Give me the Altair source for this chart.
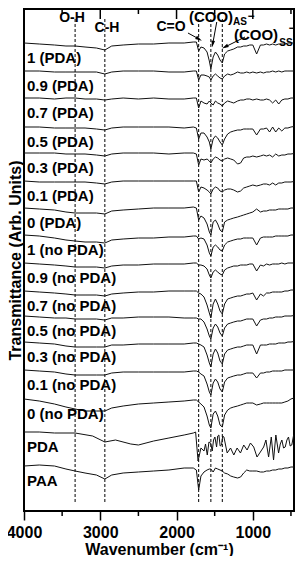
import altair as alt
import pandas as pd

FONT = "Liberation Sans"

# ---- wavenumber grid (cm^-1) shared by most spectra ----
W = [4000, 3800, 3600, 3450, 3330, 3200, 3050, 2940, 2850, 2700,
     2500, 2300, 2100, 1900, 1780, 1740, 1710, 1680, 1640, 1600,
     1570, 1550, 1520, 1490, 1460, 1430, 1400, 1370, 1330, 1290,
     1250, 1200, 1160, 1120, 1080, 1040, 1000, 950, 900, 860,
     820, 780, 740, 700, 660, 620, 580, 540, 500, 425]

SERIES = ["1 (PDA)", "0.9 (PDA)", "0.7 (PDA)", "0.5 (PDA)", "0.3 (PDA)",
          "0.1 (PDA)", "0 (PDA)", "1 (no PDA)", "0.9 (no PDA)", "0.7 (no PDA)",
          "0.5 (no PDA)", "0.3 (no PDA)", "0.1 (no PDA)", "0 (no PDA)", "PDA", "PAA"]

# vertical stacking offsets (arb. units)
OFFSETS = [468, 440, 413, 384, 358, 330, 303, 276, 248, 220, 195, 169, 141, 112, 79, 45]

# relative transmittance of each spectrum (arb. units)
S01 = [0, -1, -2, -3, -3, -4, -5, -7, -3, -2,
       -1, -1, 0, 0, 1, 1, -8, -4, -5, -9,
       -18, -26, -14, -9, -12, -17, -20, -11, -8, -7,
       -6, -4, -4, -3, -3, -2, -2, -11, -2, -2,
       -1, -2, -1, -2, -1, -1, -1, 0, 0, 0]
S02 = [0, 0, -1, -1, -1, -1, -1, -3, -1, 0,
       0, 0, -1, -1, 0, 0, -9, -4, -4, -5,
       -6, -9, -5, -3, -5, -7, -8, -5, -3, -4,
       -3, -1, -2, -2, -1, -2, -1, -2, -1, -2,
       -1, -1, 0, -1, 0, -1, 0, 0, 0, 0]
S03 = [0, 0, -1, 0, 0, -1, -1, -2, -1, 0,
       -1, 0, -1, -1, 0, 0, -10, -3, -5, -6,
       -3, -5, -7, -3, -5, -6, -8, -5, -3, -4,
       -5, -3, -2, -2, -1, -1, -2, -1, -2, -2,
       -1, -2, -5, -2, -6, -2, -1, -1, 0, 0]
S04 = [0, 0, -1, -1, -1, -1, -2, -3, -1, 0,
       0, 0, 0, -1, 0, -1, -12, -6, -6, -10,
       -15, -22, -12, -9, -11, -15, -18, -12, -7, -5,
       -4, -3, -3, -2, -2, -2, -2, -8, -2, -2,
       -1, -5, 0, -5, -1, -4, -1, -1, 0, 1]
S05 = [0, 0, 0, -1, -1, -1, -2, -3, -1, 0,
       0, 0, -1, 0, 0, -1, -12, -6, -7, -6,
       -8, -10, -6, -4, -5, -7, -8, -6, -5, -6,
       -7, -11, -10, -5, -4, -4, -3, -4, -3, -2,
       -3, -2, -4, -1, -3, -2, -2, -1, -1, 0]
S06 = [0, -1, -1, -1, -1, -1, -2, -3, -1, 0,
       0, 0, 0, 0, 0, 0, -11, -6, -7, -9,
       -11, -13, -8, -6, -7, -10, -11, -9, -8, -8,
       -9, -11, -10, -7, -6, -5, -4, -5, -4, -3,
       -3, -4, -2, -4, -2, -2, -1, -1, -1, 0]
S07 = [0, -1, -2, -4, -5, -5, -5, -6, -3, -2,
       -1, 0, 0, 0, 1, 0, -12, -8, -10, -16,
       -24, -27, -14, -12, -16, -22, -24, -14, -12, -11,
       -10, -9, -8, -7, -6, -5, -4, -1, -4, -3,
       -3, -2, -2, -2, -1, -1, -1, -1, 0, 0]
S08 = [0, -1, -3, -5, -6, -7, -7, -8, -5, -4,
       -3, -3, -2, -2, -1, -1, -4, -3, -4, -10,
       -18, -21, -12, -10, -12, -15, -16, -10, -7, -6,
       -5, -4, -4, -3, -3, -3, -3, -10, -3, -2,
       -2, -2, -2, -1, -1, -1, -1, -1, 0, 0]
S09 = [0, -1, -2, -3, -4, -4, -4, -5, -3, -2,
       -2, -1, -1, -1, 0, 0, -2, -2, -3, -6,
       -12, -15, -9, -7, -9, -11, -12, -7, -5, -4,
       -3, -3, -2, -2, -2, -1, -1, -8, -2, -3,
       -1, -2, -1, -1, -1, 0, -1, 0, 0, 0]
S10 = [0, -1, -2, -3, -4, -4, -4, -5, -3, -2,
       -1, -1, 0, 0, 0, 0, -2, -3, -6, -14,
       -22, -27, -13, -8, -13, -20, -23, -13, -8, -7,
       -6, -5, -5, -4, -3, -3, -2, -9, -3, -5,
       -2, -2, -1, -1, -1, -1, 0, 0, 1, 1]
S11 = [0, -1, -2, -2, -3, -3, -3, -4, -2, -2,
       -1, -1, -1, -2, -2, -2, -3, -3, -6, -13,
       -20, -23, -12, -8, -11, -17, -20, -12, -8, -7,
       -6, -5, -5, -4, -3, -3, -3, -10, -4, -3,
       -3, -2, -2, -1, -1, -1, 0, 0, 0, 1]
S12 = [0, -1, -2, -4, -5, -5, -5, -5, -3, -3,
       -2, -2, -2, -2, -1, -1, -2, -3, -5, -13,
       -21, -25, -12, -7, -11, -19, -22, -12, -8, -7,
       -6, -5, -5, -4, -3, -3, -3, -12, -3, -3,
       -3, -2, -2, -2, -1, -1, -1, 0, 0, 1]
S13 = [0, -1, -2, -4, -5, -5, -5, -5, -3, -2,
       -2, -2, -2, -2, -1, -1, -2, -4, -6, -14,
       -22, -25, -13, -9, -12, -19, -22, -12, -8, -7,
       -6, -5, -5, -4, -3, -3, -3, -8, -3, -3,
       -2, -2, -1, -1, -1, -1, 0, 0, 0, 0]
S14 = [0, -2, -5, -8, -10, -12, -12, -12, -9, -7,
       -5, -4, -3, -2, -1, -1, -3, -5, -8, -17,
       -26, -29, -15, -12, -17, -26, -28, -16, -11, -9,
       -8, -7, -6, -5, -4, -4, -4, -6, -5, -4,
       -4, -4, -4, -4, -4, -4, -3, -2, 0, 2]
PAA = [0, 1, 0, -3, -5, -7, -9, -13, -9, -7,
       -6, -5, -4, -2, -2, -4, -24, -10, -6, -4,
       -3, -3, -6, -2, -3, -4, -5, -7, -8, -10,
       -11, -12, -11, -7, -4, -5, -5, -5, -6, -6,
       -5, -5, -4, -4, -3, -3, -2, -2, -1, -1]

# pure PDA spectrum is very jagged: own, finer grid
PDA_W = [4000, 3800, 3600, 3330, 3100, 2940, 2800, 2600, 2500, 2400,
         2300, 2100, 1900, 1780, 1750, 1718, 1680, 1640, 1620, 1597,
         1575, 1553, 1532, 1515, 1497, 1475, 1460, 1445, 1428, 1410,
         1395, 1379, 1336, 1292, 1249, 1206, 1162, 1119, 1075, 1031,
         988, 945, 901, 858, 828, 793, 758, 728, 698, 662,
         640, 619, 597, 575, 553, 532, 510, 489, 467, 444, 425]
PDA = [0, 0, -1, -1, -4, -10, -8, -12, -13, -11,
       -9, -6, -3, -1, 0, -29, -16, -19, -12, -23,
       -10, -11, -19, -8, -5, -15, -4, -3, -14, -13,
       -4, -5, -21, -16, -23, -16, -21, -13, -18, -11,
       -15, -25, -20, -15, -8, -25, -5, -28, -3, -21,
       -12, -8, -16, -15, -8, -5, -14, -13, -4, -1, -10]

REL = [S01, S02, S03, S04, S05, S06, S07, S08, S09, S10, S11, S12, S13, S14, PDA, PAA]

# marker lines (cm^-1) and annotations
VLINES = [3330, 2940, 1710, 1550, 1400]
VLINE_TOP, VLINE_BOTTOM = 492, 8
ANN_TEXT = ["O-H", "C-H", "C=O", "(COO)", "AS", "\u2212", "(COO)", "SS", "\u2212"]
ANN_W = [3371, 2912, 2073, 1548, 1168, 1024, 958, 565, 486]
ANN_T = [493, 483, 484, 494, 489, 495, 476, 468, 483]
ANN_FS = [14, 14, 14, 15, 10, 12, 15, 10, 12]
ARROW_W1 = [1850, 1473, 1102]
ARROW_T1 = [478, 489, 474]
ARROW_W2 = [1706, 1526, 1365]
ARROW_T2 = [472, 467, 464]
ARROW_ANGLE = [119, 189, 243]

TICK_MAJOR = [3000, 2000, 1000]
TICK_MINOR = [3500, 2500, 1500, 500]
LABEL_VALUES = [4000, 3000, 2000, 1000]

# ---- build tables ----
rows = []
for name, off, rel in zip(SERIES, OFFSETS, REL):
    ws = PDA_W if name == "PDA" else W
    assert len(ws) == len(rel), name
    for i, (w, r) in enumerate(zip(ws, rel)):
        rows.append({"series": name, "w": w, "t": off + r, "idx": i})
df = pd.DataFrame(rows)
lab_df = pd.DataFrame({"series": SERIES, "t": [o - 15 for o in OFFSETS]})
vl_df = pd.DataFrame({"w": VLINES, "t": [VLINE_TOP] * len(VLINES), "t2": [VLINE_BOTTOM] * len(VLINES)})
ann_df = pd.DataFrame({"w": ANN_W, "t": ANN_T, "label": ANN_TEXT, "fs": ANN_FS})
arr_df = pd.DataFrame({"w": ARROW_W1, "t": ARROW_T1, "w2": ARROW_W2, "t2": ARROW_T2})
head_df = pd.DataFrame({"w": ARROW_W2, "t": ARROW_T2, "ang": ARROW_ANGLE})
major_df = pd.DataFrame({"w": TICK_MAJOR})
minor_df = pd.DataFrame({"w": TICK_MINOR})

xs = alt.Scale(domain=[460, 4000], reverse=True, nice=False, zero=False)
ys = alt.Scale(domain=[0, 502], nice=False, zero=False)
xaxis = alt.Axis(values=LABEL_VALUES, format="d", tickSize=9, tickWidth=1.5, tickColor="black",
                 labelFont=FONT, labelFontSize=16, labelFontWeight="bold", labelColor="black",
                 labelPadding=4, labelFlush=False, labelOverlap=False,
                 title="Wavenumber (cm\u207b\u00b9)", titleFont=FONT, titleFontSize=16,
                 titleFontWeight="bold", titleColor="black", titlePadding=1,
                 domain=False, grid=False)
yaxis = alt.Axis(title="Transmittance (Arb. Units)", labels=False, ticks=False, domain=False,
                 grid=False, titleFont=FONT, titleFontSize=16, titleFontWeight="bold",
                 titleColor="black", titlePadding=1, minExtent=0)
X = alt.X("w:Q", scale=xs, axis=xaxis)
Y = alt.Y("t:Q", scale=ys, axis=yaxis)

vlines = alt.Chart(vl_df).mark_rule(color="black", strokeWidth=1, strokeDash=[3, 2]).encode(
    x=X, y=Y, y2="t2:Q")
traces = alt.Chart(df).mark_line(color="#111111", strokeWidth=1, clip=True).encode(
    x=X, y=Y, detail="series:N", order="idx:Q")
labels = alt.Chart(lab_df).mark_text(align="left", baseline="middle", font=FONT, fontSize=15,
                                     fontWeight="bold", color="black").encode(
    x=alt.value(3), y=Y, text="series:N")
ann = alt.Chart(ann_df).mark_text(align="center", baseline="middle", font=FONT,
                                  fontWeight="bold", color="black").encode(
    x=X, y=Y, text="label:N", size=alt.Size("fs:Q", scale=None))
arrows = alt.Chart(arr_df).mark_rule(color="black", strokeWidth=1).encode(
    x=X, y=Y, x2="w2:Q", y2="t2:Q")
heads = alt.Chart(head_df).mark_point(shape="M0,-1L0.55,1L-0.55,1Z", filled=True, size=45,
                                      color="black", opacity=1).encode(
    x=X, y=Y, angle=alt.Angle("ang:Q", scale=None))
top_major = alt.Chart(major_df).mark_rule(color="black", strokeWidth=1.5).encode(
    x=X, y=alt.value(0), y2=alt.value(10))
top_minor = alt.Chart(minor_df).mark_rule(color="black", strokeWidth=1.5).encode(
    x=X, y=alt.value(0), y2=alt.value(5))
bot_minor = alt.Chart(minor_df).mark_rule(color="black", strokeWidth=1.5).encode(
    x=X, y=alt.value(502), y2=alt.value(507))

chart = alt.layer(vlines, traces, labels, ann, arrows, heads, top_major, top_minor, bot_minor).properties(
    width=270, height=502,
    autosize=alt.AutoSizeParams(type="none"),
    padding={"left": 16, "top": 1, "right": 1, "bottom": 45}
).configure_view(stroke="black", strokeWidth=2)

chart.save("out.html", embed_options={"renderer": "svg", "actions": False})
